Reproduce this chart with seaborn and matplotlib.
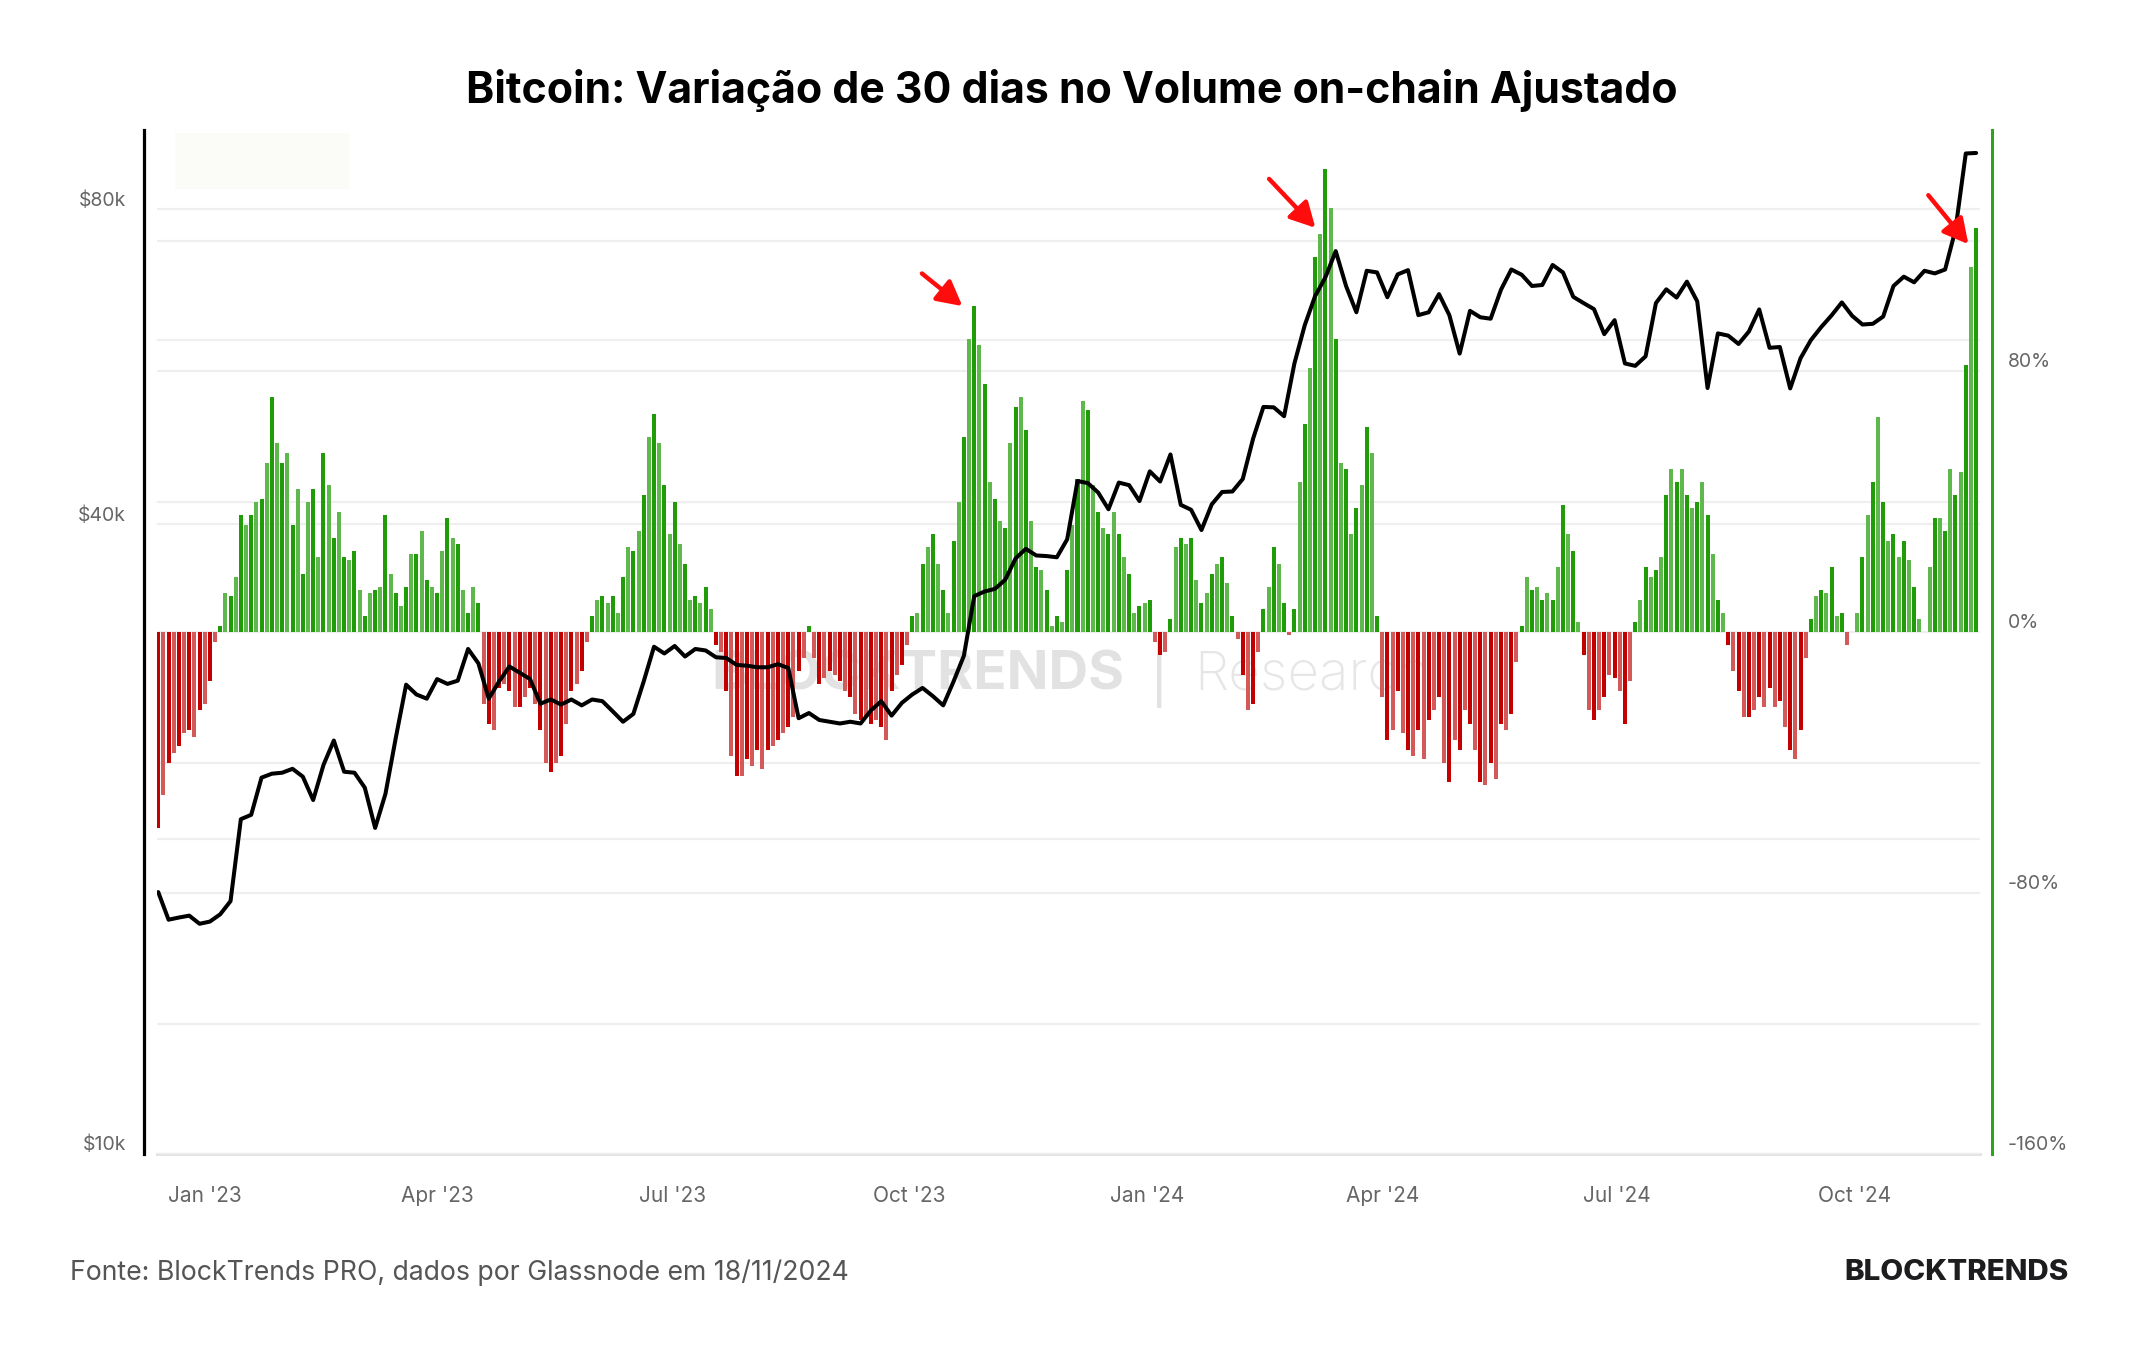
import numpy as np
import pandas as pd
import seaborn as sns
import matplotlib.pyplot as plt
import matplotlib.dates as mdates
from matplotlib.ticker import FixedLocator, NullFormatter, FuncFormatter
from matplotlib.transforms import ScaledTranslation
from matplotlib.patches import Rectangle

# 30 day change of the adjusted on-chain volume (%), one value every 2 days from 14/12/2022
chg_2023 = [
    -60, -50, -40, -37, -35, -31, -30, -32, -24, -22, -15, -3,
    2, 12, 11, 17, 36, 33, 36, 40, 41, 52,
    72, 58, 52, 55, 33, 44, 18, 40, 44, 23,
    55, 45, 29, 37, 23, 22, 25, 13, 5, 12,
    13, 14, 36, 18, 12, 8, 14, 24, 24, 31,
    16, 14, 12, 25, 35, 29, 27, 13, 6, 14, 9,
    -22, -28, -30, -17, -16, -18, -23, -23, -20, -17,
    -22, -30, -40, -43, -40, -38, -28, -18, -16, -12, -3,
    5, 10, 11, 9, 11, 6, 17, 26, 25, 31, 42, 60,
    67, 58, 45, 30, 40, 27, 21, 10, 11, 9, 14, 7,
    -4, -6, -18, -38, -44, -44, -39, -41, -36, -42,
    -36, -35, -33, -31, -29, -26, -12, -8, 2, -8,
    -16, -14, -12, -13, -15, -18, -20, -25, -27, -26,
    -28, -27, -29, -33, -18, -13, -10, -4,
    5, 6, 21, 26, 30, 21, 13, 6, 28, 40,
    60, 90, 100, 88, 76, 46, 41, 34, 32, 58,
    69, 72, 62, 34, 20, 19, 13, 2, 5, 3,
    19, 33, 47, 71, 68, 45, 37, 32, 30, 37,
    30, 23, 18, 6, 8, 9,
]
chg_2024 = [
    10, -3, -7, -6, 4, 26, 29, 27, 29, 16,
    9, 12, 18, 21, 23, 15, 5, -2, -13, -24,
    -22, -6, 7, 14,
    26, 21, 9, -1, 7, 46, 64, 81, 115, 122,
    142, 130, 90, 52, 50, 30, 38, 45, 63, 55,
    5, -20, -33, -30, -18, -31, -36, -38, -30, -39,
    -27, -24, -20, -40, -46, -33, -36, -24, -28, -36,
    -46, -47, -40, -45, -28, -30, -25, -9,
    2, 17, 13, 14, 10, 12, 10, 20, 39, 30,
    25, 3, -7, -24, -27, -24, -20, -13, -14, -18,
    -28, -15, 3, 10,
    20, 17, 19, 23, 42, 50, 46, 50, 42, 38,
    40, 46, 36, 24, 10, 6, -4, -12, -18, -26,
    -26, -24, -20, -23, -17, -23, -21, -29, -36, -39,
    -30, -8, 4, 11, 13, 12, 20, 5, 6, -4,
    0, 6, 23, 36, 46, 66, 40, 28, 30, 23,
    28, 22, 14, 4, 0, 20, 35, 35, 31, 50,
    42, 49, 82, 112, 124,
]

# BTC price (USD), one value every 4 days from 14/12/2022
price_2023 = [
    17800, 16750, 16830, 16900, 16600, 16680, 16950, 17450, 20900, 21100,
    22900, 23100, 23150, 23350, 22950, 21800, 23550, 24850, 23200, 23150,
    22400, 20500, 22100, 25000, 28100, 27500, 27250, 28450, 28150, 28350,
    30400, 29450, 27250, 28300, 29250, 28850, 28450, 26950, 27200, 26900,
    27200, 26850, 27200, 27100, 26500, 25900, 26350, 28300, 30550, 30100,
    30600, 29900, 30400, 30300, 29850, 29800, 29350, 29300, 29200, 29200,
    29400, 29150, 26100, 26400, 26000, 25900, 25800, 25900, 25800, 26550,
    27100, 26250, 27000, 27500, 27900, 27400, 26850, 28300, 29950, 34150,
    34500, 34700, 35400, 37100, 37900, 37350, 37300, 37200, 38700, 44000,
    43800, 42900, 41350, 43850, 43600, 42100,
]
price_2024 = [
    44950, 43950, 46650, 41750, 41300, 39500, 41800, 42950, 43000, 44200,
    48300, 51800, 51750, 50750, 57000, 62000, 66100, 68900, 73000, 67600,
    63800, 69900, 69650, 65950, 69350, 70000, 63400, 63800, 66400, 63400,
    58250, 64000, 63100, 62900, 67050, 70100, 69300, 67600, 67750, 70800,
    69650, 66000, 65100, 64250, 60800, 62700, 57000, 56700, 57900, 65100,
    67100, 65900, 68250, 65350, 54000, 60900, 60600, 59500, 61150, 64200,
    59000, 59100, 53950, 57650, 60000, 61750, 63350, 65200, 63300, 62100,
    62200, 63200, 67600, 69000, 68150, 69900, 69500, 70100, 76500, 90500,
    90600,
]

month_ticks = ['2023-01-01', '2023-04-01', '2023-07-01', '2023-10-01',
               '2024-01-01', '2024-04-01', '2024-07-01', '2024-10-01']
price_ticks = [10000, 40000, 80000]
price_grid = [20000, 60000]
pct_ticks = [-160, -80, 0, 80]
pct_grid = [-120, -40, 40, 120]

# red arrows (tail, head) as (date, % change)
arrows = [
    (('2023-10-05 18:00', 110), ('2023-10-21 10:00', 100)),
    (('2024-02-17 05:00', 139), ('2024-03-06 03:00', 124)),
    (('2024-10-29 12:00', 134), ('2024-11-14 00:00', 119)),
]

title = "Bitcoin: Variação de 30 dias no Volume on-chain Ajustado"
source = "Fonte: BlockTrends PRO, dados por Glassnode em 18/11/2024"

sns.set_theme(style="white")
plt.rcParams['font.family'] = ['Inter', 'DejaVu Sans']

vol_change = np.array(chg_2023 + chg_2024)
bar_dates = pd.date_range('2022-12-14', periods=len(vol_change), freq='2D')
price = np.array(price_2023 + price_2024)
price_dates = pd.date_range('2022-12-14', periods=len(price), freq='4D')

fig = plt.figure(figsize=(21.44, 13.5), dpi=100)
ax = fig.add_axes([0.0732, 0.1452, 0.8503, 0.7585])
ax2 = ax.twinx()
ax3 = ax.twinx()

# bars (right axis)
green = ['#1f9c07', '#5fb84c']
red = ['#c20000', '#d45a5a']
colors = [(green if v >= 0 else red)[k % 2] for k, v in enumerate(vol_change)]
ax2.bar(bar_dates, vol_change, width=1.55, color=colors, linewidth=0, zorder=2)

# price line (left axis, log)
sns.lineplot(x=price_dates, y=price, ax=ax3, color='black', linewidth=2.9)

xmin, xmax = pd.Timestamp('2022-12-13 12:00'), pd.Timestamp('2024-11-18 12:00')
for a in (ax, ax3):
    a.set_yscale('log')
    a.set_ylim(10000, 95300)
ax.set_xlim(xmin, xmax)
ax2.set_ylim(-160, 154)

grid_kw = dict(color='#efefef', linewidth=1.6)
ax.yaxis.set_major_locator(FixedLocator(price_ticks))
ax.yaxis.set_minor_locator(FixedLocator(price_grid))
ax.yaxis.set_major_formatter(FuncFormatter(lambda v, p: f'${v / 1000:.0f}k'))
ax.yaxis.set_minor_formatter(NullFormatter())
ax.grid(axis='y', which='both', **grid_kw)

ax2.yaxis.set_major_locator(FixedLocator(pct_ticks))
ax2.yaxis.set_minor_locator(FixedLocator(pct_grid))
ax2.yaxis.set_major_formatter(FuncFormatter(lambda v, p: f'{v:.0f}%'))
ax2.yaxis.set_minor_formatter(NullFormatter())
ax2.grid(axis='y', which='both', **grid_kw)
ax2.set_axisbelow(True)

ax3.yaxis.set_visible(False)
ax3.set_xlabel('')
ax3.set_ylabel('')

ax.set_xticks(pd.to_datetime(month_ticks))
ax.xaxis.set_major_formatter(mdates.DateFormatter("%b '%y"))
ax.tick_params(axis='x', length=13, width=1.2, color='#e3e3e3',
               labelsize=15, labelcolor='#666666', pad=10)
ax.tick_params(axis='y', which='both', length=0, labelsize=14,
               labelcolor='#666666', pad=13)
ax2.tick_params(axis='y', which='both', length=0, labelsize=14,
                labelcolor='#666666', pad=11.5)

for s in ['top', 'right']:
    ax.spines[s].set_visible(False)
ax.spines['left'].set_color('black')
ax.spines['left'].set_linewidth(2.3)
ax.spines['left'].set_position(('outward', 9.4))
ax.spines['bottom'].set_color('#e4e4e4')
ax.spines['bottom'].set_linewidth(2.2)
for s in ['top', 'left', 'bottom']:
    ax2.spines[s].set_visible(False)
ax2.spines['right'].set_color('#2ea41c')
ax2.spines['right'].set_linewidth(2.2)
ax2.spines['right'].set_position(('outward', 8.6))
for s in ax3.spines.values():
    s.set_visible(False)

# labels sit a bit above their grid lines
shift = ScaledTranslation(0, 11 / 100, fig.dpi_scale_trans)
for lab in ax.get_yticklabels() + ax2.get_yticklabels():
    lab.set_transform(lab.get_transform() + shift)

# arrows
for (t_date, t_val), (h_date, h_val) in arrows:
    ax3.annotate('', xy=(mdates.date2num(pd.Timestamp(h_date)), h_val),
                 xytext=(mdates.date2num(pd.Timestamp(t_date)), t_val),
                 xycoords=ax2.transData, textcoords=ax2.transData,
                 arrowprops=dict(arrowstyle='-|>,head_length=0.75,head_width=0.4',
                                 color='#ff0d0d', lw=3.2, mutation_scale=20,
                                 shrinkA=0, shrinkB=0))

# watermark
ax.text(0.3316, 0.5, 'BLOCKTRENDS', transform=fig.transFigure, fontsize=39.5,
        fontweight='bold', color='#e2e2e2', va='center', ha='left', zorder=1)
ax.text(0.5406, 0.5, '|', transform=fig.transFigure, fontsize=40,
        color='#e2e2e2', va='center', ha='center', zorder=1)
ax.text(0.5569, 0.5, 'Research', transform=fig.transFigure, fontsize=39.5,
        fontweight='light', color='#e6e6e6', va='center', ha='left', zorder=1)

# faint empty legend box
fig.add_artist(Rectangle((0.0816, 0.86), 0.0812, 0.0415, transform=fig.transFigure,
                         facecolor='#fbfbf7', edgecolor='none'))

fig.text(0.5, 0.9326, title, ha='center', va='center', fontsize=30.8,
         fontweight='bold', color='black')
fig.text(0.0326, 0.0573, source, ha='left', va='center', fontsize=19.2, color='#555555')
fig.text(0.965, 0.0573, 'BLOCKTRENDS', ha='right', va='center', fontsize=21.3,
         fontweight='heavy', color='#1d1d1f')

fig.savefig('out.png', dpi=100, facecolor='white')
